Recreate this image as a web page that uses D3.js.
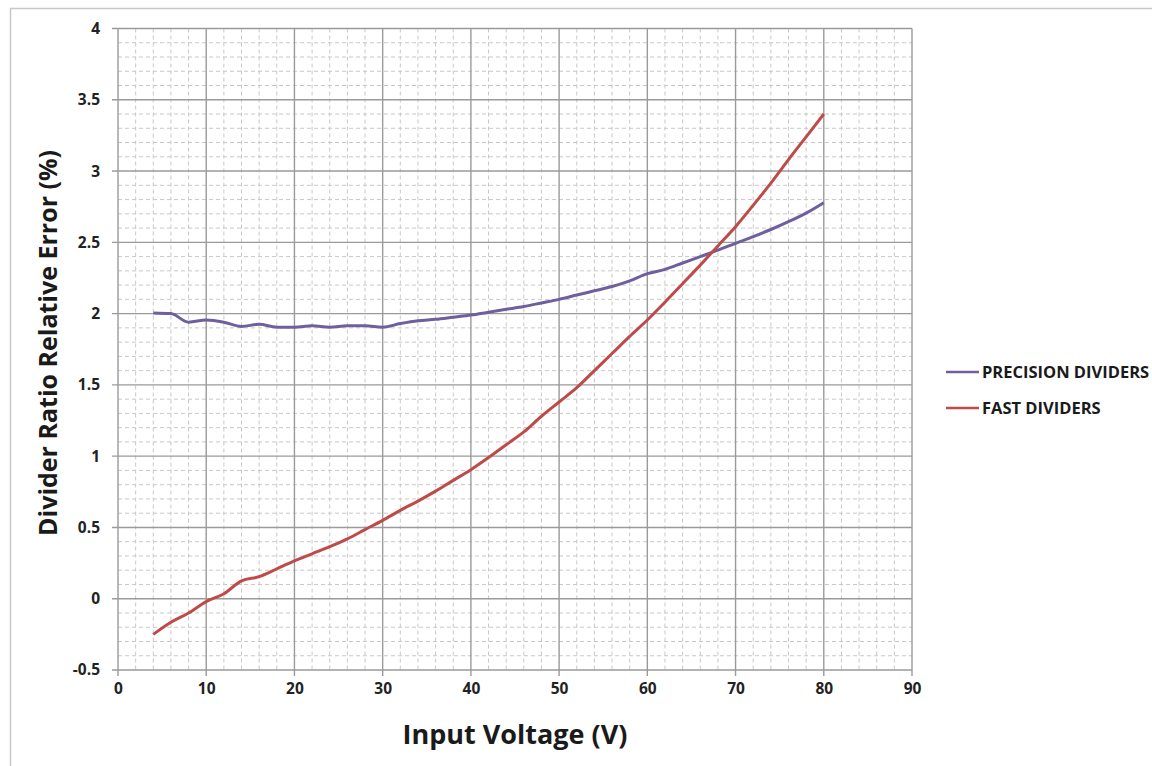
<!DOCTYPE html>
<html>
<head>
<meta charset="utf-8">
<script src="https://cdn.jsdelivr.net/npm/d3@7"></script>
<style>
  html, body { margin: 0; padding: 0; background: #fff; }
  svg { display: block; font-family: "Open Sans", "Liberation Sans", sans-serif; }
</style>
</head>
<body>
<svg id="chart" width="1152" height="766"></svg>
<script>
// Input voltage sweep (V)
const voltages = [4, 6, 8, 10, 12, 14, 16, 18, 20, 22, 24, 26, 28, 30, 32, 34, 36, 38, 40,
  42, 44, 46, 48, 50, 52, 54, 56, 58, 60, 62, 64, 66, 68, 70, 72, 74, 76, 78, 80];

// Divider ratio relative error (%)
const precisionError = [2.005, 2.0, 1.94, 1.955, 1.94, 1.91, 1.925, 1.905, 1.905, 1.915, 1.905, 1.915, 1.915, 1.905,
  1.93, 1.95, 1.96, 1.975, 1.99, 2.01, 2.03, 2.05, 2.075, 2.10, 2.13, 2.16, 2.19, 2.23, 2.28, 2.31,
  2.355, 2.40, 2.445, 2.493, 2.54, 2.59, 2.645, 2.705, 2.778];
const fastError = [-0.25, -0.165, -0.1, -0.02, 0.035, 0.125, 0.155, 0.21, 0.265, 0.315, 0.365, 0.42, 0.485, 0.55,
  0.62, 0.685, 0.755, 0.83, 0.905, 0.99, 1.08, 1.17, 1.28, 1.38, 1.48, 1.6, 1.72, 1.84, 1.955, 2.08,
  2.21, 2.34, 2.475, 2.61, 2.76, 2.915, 3.08, 3.24, 3.40];

const seriesNames = ["PRECISION DIVIDERS", "FAST DIVIDERS"];
const seriesColors = ["#6f5f9e", "#be4b48"];

const xTicks = [0, 10, 20, 30, 40, 50, 60, 70, 80, 90];
const yTicks = [-0.5, 0, 0.5, 1, 1.5, 2, 2.5, 3, 3.5, 4];

const svg = d3.select("#chart");
const plot = { left: 118, right: 912, top: 28.5, bottom: 670 };

const x = d3.scaleLinear().domain([0, 90]).range([plot.left, plot.right]);
const y = d3.scaleLinear().domain([-0.5, 4]).range([plot.bottom, plot.top]);

// outer chart border
svg.append("path")
  .attr("d", "M10.5,766 V8.5 H1152")
  .attr("fill", "none").attr("stroke", "#c8c8c8").attr("stroke-width", 1.5);

const g = svg.append("g");

// minor gridlines (dashed)
const xMinor = d3.range(0, 90.001, 2).filter(v => v % 10 !== 0);
const yMinor = d3.range(-5, 41).map(v => v / 10).filter(v => Math.abs(v * 2 - Math.round(v * 2)) > 1e-6);

g.selectAll(".xminor").data(xMinor).join("line")
  .attr("x1", d => x(d)).attr("x2", d => x(d))
  .attr("y1", plot.top).attr("y2", plot.bottom)
  .attr("stroke", "#c8c8c8").attr("stroke-width", 1).attr("stroke-dasharray", "4,3");
g.selectAll(".yminor").data(yMinor).join("line")
  .attr("y1", d => y(d)).attr("y2", d => y(d))
  .attr("x1", plot.left).attr("x2", plot.right)
  .attr("stroke", "#c8c8c8").attr("stroke-width", 1).attr("stroke-dasharray", "4,3");

// major gridlines
g.selectAll(".xmajor").data(xTicks).join("line")
  .attr("x1", d => x(d)).attr("x2", d => x(d))
  .attr("y1", plot.top).attr("y2", plot.bottom + 6)
  .attr("stroke", "#9a9a9a").attr("stroke-width", 1.4);
g.selectAll(".ymajor").data(yTicks).join("line")
  .attr("y1", d => y(d)).attr("y2", d => y(d))
  .attr("x1", plot.left - 6).attr("x2", plot.right)
  .attr("stroke", "#9a9a9a").attr("stroke-width", 1.4);

// axis tick labels
const xAxis = d3.axisBottom(x).tickValues(xTicks).tickSize(0).tickPadding(13).tickFormat(d3.format("d"));
const yAxis = d3.axisLeft(y).tickValues(yTicks).tickSize(0).tickPadding(18).tickFormat(d => String(d));

const gx = svg.append("g").attr("transform", `translate(0,${plot.bottom})`).call(xAxis);
const gy = svg.append("g").attr("transform", `translate(${plot.left},0)`).call(yAxis);
[gx, gy].forEach(a => {
  a.select(".domain").remove();
  a.selectAll("text").attr("font-size", 15.5).attr("font-weight", "bold").attr("fill", "#222")
    .attr("font-family", "'Open Sans', sans-serif");
});

// series lines
const line = d3.line().x((d, i) => x(voltages[i])).y(d => y(d)).curve(d3.curveMonotoneX);
[precisionError, fastError].forEach((vals, k) => {
  svg.append("path").datum(vals)
    .attr("d", line)
    .attr("fill", "none")
    .attr("stroke", seriesColors[k])
    .attr("stroke-width", 3)
    .attr("stroke-linejoin", "round");
});

// axis titles
svg.append("text")
  .attr("x", 515).attr("y", 744)
  .attr("text-anchor", "middle")
  .attr("font-size", 27).attr("font-weight", "bold").attr("fill", "#1a1a1a")
  .text("Input Voltage (V)");

svg.append("text")
  .attr("transform", "translate(57,343) rotate(-90)")
  .attr("text-anchor", "middle")
  .attr("font-size", 25).attr("font-weight", "bold").attr("fill", "#1a1a1a")
  .text("Divider Ratio Relative Error (%)");

// legend
const legend = svg.append("g").attr("transform", "translate(946,372)");
seriesNames.forEach((name, k) => {
  const row = legend.append("g").attr("transform", `translate(0,${k * 36})`);
  row.append("line").attr("x1", 0).attr("x2", 33).attr("y1", 0).attr("y2", 0)
    .attr("stroke", seriesColors[k]).attr("stroke-width", 2.5);
  row.append("text").attr("x", 36).attr("y", 6)
    .attr("font-size", 16.5).attr("font-weight", "bold").attr("fill", "#1a1a1a")
    .text(name);
});
</script>
</body>
</html>
